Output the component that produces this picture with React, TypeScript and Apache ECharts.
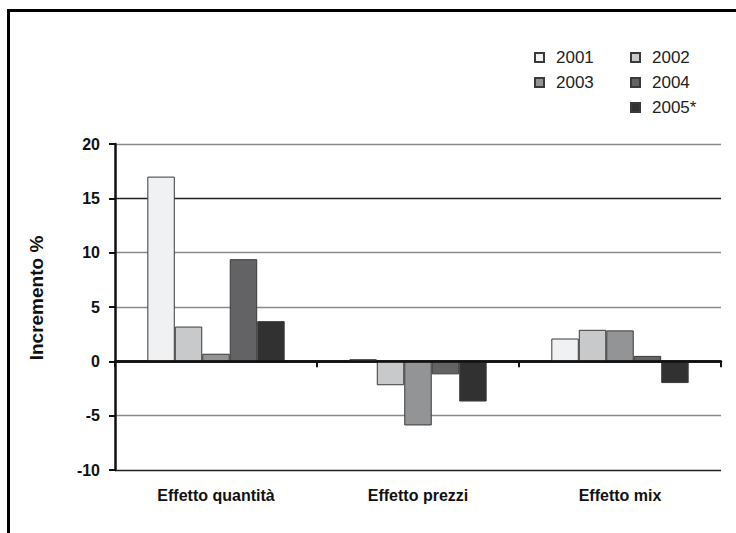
import React, { useEffect, useRef } from "react";
import * as echarts from "echarts";

const categories = ["Effetto quantità", "Effetto prezzi", "Effetto mix"];
const years = ["2001", "2002", "2003", "2004", "2005*"];
const y2001 = [17, 0.2, 2.1];
const y2002 = [3.2, -2.2, 2.9];
const y2003 = [0.7, -5.9, 2.85];
const y2004 = [9.4, -1.2, 0.5];
const y2005 = [3.7, -3.7, -2.0];
const seriesValues = [y2001, y2002, y2003, y2004, y2005];
const barColors = ["#f0f1f3", "#c8c9cb", "#939496", "#636365", "#323132"];
const yAxisTitle = "Incremento %";
const yMin = -10;
const yMax = 20;
const yStep = 5;

const legendPos = [
  { left: 529, top: 44 },
  { left: 625, top: 44 },
  { left: 529, top: 69 },
  { left: 625, top: 69 },
  { left: 625, top: 94 },
];

export default function App() {
  const ref = useRef<HTMLDivElement>(null);
  useEffect(() => {
    if (!ref.current) return;
    const chart = echarts.init(ref.current, null, { renderer: "svg" });
    const font = "Liberation Sans, Arial, Helvetica, sans-serif";
    chart.setOption({
      animation: false,
      backgroundColor: "#ffffff",
      textStyle: { fontFamily: font },
      graphic: [
        {
          type: "rect",
          shape: { x: 8.5, y: 10.5, width: 900, height: 700 },
          style: { fill: "none", stroke: "#000", lineWidth: 3 },
          z: 100,
        },
        {
          type: "text",
          x: 36,
          y: 298,
          rotation: Math.PI / 2,
          style: {
            text: yAxisTitle,
            fontSize: 19,
            fontWeight: "bold",
            fill: "#111",
            fontFamily: font,
            align: "center",
            verticalAlign: "middle",
          },
        },
      ],
      legend: years.map((y, i) => ({
        data: [y],
        left: legendPos[i].left,
        top: legendPos[i].top,
        itemWidth: 9,
        itemHeight: 9,
        icon: "rect",
        selectedMode: false,
        textStyle: {
          fontSize: 17,
          color: "#222",
          fontFamily: font,
          padding: [0, 0, 0, 7],
        },
      })),
      grid: { left: 115, right: 15, top: 144, bottom: 63, containLabel: false },
      xAxis: {
        type: "category",
        data: categories,
        axisLine: { lineStyle: { color: "#111", width: 2.5 } },
        axisTick: { show: true, length: 6, lineStyle: { color: "#111", width: 2 } },
        axisLabel: {
          margin: 17,
          fontSize: 16,
          fontWeight: "bold",
          color: "#111",
          fontFamily: font,
        },
        splitLine: { show: false },
      },
      yAxis: {
        type: "value",
        min: yMin,
        max: yMax,
        interval: yStep,
        axisLine: { show: true, lineStyle: { color: "#111", width: 2.5 } },
        axisTick: { show: true, length: 6, lineStyle: { color: "#111", width: 2 } },
        axisLabel: {
          margin: 15,
          fontSize: 16,
          fontWeight: "bold",
          color: "#111",
          fontFamily: font,
        },
        splitLine: {
          show: true,
          lineStyle: {
            color: ["#222", "#8a8a8a", "#222", "#8a8a8a", "#8a8a8a", "#222", "#8a8a8a"],
            width: 1.3,
          },
        },
      },
      series: years.map((y, i) => ({
        name: y,
        type: "bar",
        data: seriesValues[i],
        barGap: "0%",
        barCategoryGap: "32%",
        itemStyle: { color: barColors[i], borderColor: "#3a3a3a", borderWidth: 1 },
        markLine:
          i === 0
            ? {
                silent: true,
                symbol: "none",
                label: { show: false },
                lineStyle: { color: "#111", width: 2.5, type: "solid" },
                data: [{ yAxis: 0 }],
              }
            : undefined,
      })),
    });
    return () => chart.dispose();
  }, []);
  return (
    <div
      ref={ref}
      style={{ position: "fixed", left: 0, top: 0, width: 736, height: 533 }}
    />
  );
}
